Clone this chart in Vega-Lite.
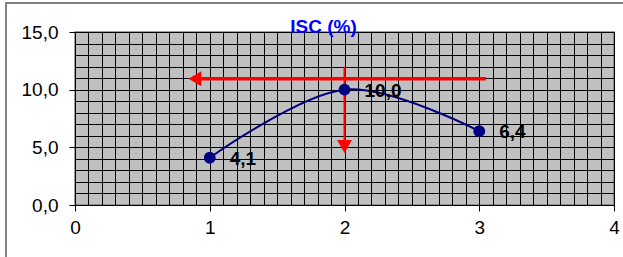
{
  "$schema": "https://vega.github.io/schema/vega-lite/v6.json",
  "width": 539,
  "height": 173,
  "autosize": {"type": "none"},
  "padding": {"left": 75, "top": 32, "right": 9, "bottom": 52},
  "background": "white",
  "title": {"text": "ISC (%)", "frame": "group", "fontSize": 19, "fontWeight": "bold", "color": "#0000FF", "font": "Liberation Sans", "anchor": "middle", "dx": -21, "baseline": "alphabetic", "offset": 0, "dy": 50},
  "config": {
    "locale": {"number": {"decimal": ",", "thousands": ".", "grouping": [3], "currency": ["", " €"]}},
    "view": {"fill": "#C0C0C0", "stroke": "#808080", "strokeWidth": 1.5},
    "font": "Liberation Sans"
  },
  "datasets": {
    "series": [
      {"x": 1, "y": 4.1},
      {"x": 2, "y": 10.0},
      {"x": 3, "y": 6.4}
    ],
    "arrows": [
      {"name": "horizontal", "x": 3.05, "x2": 0.92, "y": 10.95, "y2": 10.95},
      {"name": "vertical", "x": 2, "x2": 2, "y": 12.0, "y2": 5.3}
    ],
    "heads": [
      {"name": "horizontal", "x": 0.89, "y": 10.95, "shape": "triangle-left"},
      {"name": "vertical", "x": 2, "y": 5.07, "shape": "triangle-down"}
    ]
  },
  "encoding": {
    "x": {"field": "x", "type": "quantitative", "scale": {"domain": [0, 4], "nice": false, "zero": false},
      "axis": {
        "orient": "bottom",
        "values": [0,0.1,0.2,0.3,0.4,0.5,0.6,0.7,0.8,0.9,1,1.1,1.2,1.3,1.4,1.5,1.6,1.7,1.8,1.9,2,2.1,2.2,2.3,2.4,2.5,2.6,2.7,2.8,2.9,3,3.1,3.2,3.3,3.4,3.5,3.6,3.7,3.8,3.9,4],
        "title": null,
        "grid": true, "gridColor": "#000000", "gridWidth": 1, "gridOpacity": 1,
        "domain": true, "domainColor": "#000000", "domainWidth": 1,
        "ticks": true, "tickSize": 6, "tickColor": "#000000",
        "tickOpacity": {"condition": {"test": "abs(datum.value - round(datum.value)) < 0.001", "value": 1}, "value": 0},
        "labelExpr": "abs(datum.value - round(datum.value)) < 0.001 ? format(datum.value, 'd') : ''",
        "labelFontSize": 19, "labelColor": "#000000", "labelFont": "Liberation Sans", "labelPadding": 7,
        "labelOverlap": false, "labelFlush": false, "labelBound": false
      }
    },
    "y": {"field": "y", "type": "quantitative", "scale": {"domain": [0, 15], "nice": false, "zero": true},
      "axis": {
        "orient": "left",
        "values": [0,1,2,3,4,5,6,7,8,9,10,11,12,13,14,15],
        "title": null,
        "grid": true, "gridColor": "#000000", "gridWidth": 1, "gridOpacity": 1,
        "domain": true, "domainColor": "#000000", "domainWidth": 1,
        "ticks": true, "tickSize": 6, "tickColor": "#000000",
        "tickOpacity": {"condition": {"test": "datum.value % 5 == 0", "value": 1}, "value": 0},
        "format": ".1f",
        "labelExpr": "datum.value % 5 == 0 ? datum.label : ''",
        "labelFontSize": 19, "labelColor": "#000000", "labelFont": "Liberation Sans", "labelPadding": 11,
        "labelOverlap": false, "labelFlush": false, "labelBound": false
      }
    }
  },
  "layer": [
    {
      "data": {"name": "series"},
      "mark": {"type": "rect", "fill": "transparent", "stroke": "#808080", "strokeWidth": 1.5, "clip": false},
      "encoding": {
        "x": {"datum": -0.512, "type": "quantitative"},
        "x2": {"datum": 4.2},
        "y": {"datum": 17.52, "type": "quantitative"},
        "y2": {"datum": -4.6}
      }
    },
    {
      "data": {"name": "arrows"},
      "mark": {"type": "rule", "color": "#FF0000"},
      "encoding": {
        "x2": {"field": "x2"},
        "y2": {"field": "y2"},
        "strokeWidth": {"field": "name", "type": "nominal", "scale": {"domain": ["horizontal", "vertical"], "range": [3.5, 2]}, "legend": null}
      }
    },
    {
      "data": {"name": "heads"},
      "mark": {"type": "point", "filled": true, "color": "#FF0000", "size": 220, "opacity": 1},
      "encoding": {
        "shape": {"field": "shape", "type": "nominal", "scale": null}
      }
    },
    {
      "data": {"name": "series"},
      "mark": {"type": "line", "color": "#000080", "strokeWidth": 2, "interpolate": "cardinal"},
      "encoding": {}
    },
    {
      "data": {"name": "series"},
      "mark": {"type": "point", "filled": true, "color": "#000080", "size": 140, "opacity": 1, "shape": "circle"},
      "encoding": {}
    },
    {
      "data": {"name": "series"},
      "mark": {"type": "text", "align": "left", "baseline": "middle", "dx": 20, "dy": 1, "fontSize": 19, "fontWeight": "bold", "color": "#000000", "font": "Liberation Sans"},
      "encoding": {
        "text": {"field": "y", "type": "quantitative", "format": ".1f"}
      }
    }
  ]
}
